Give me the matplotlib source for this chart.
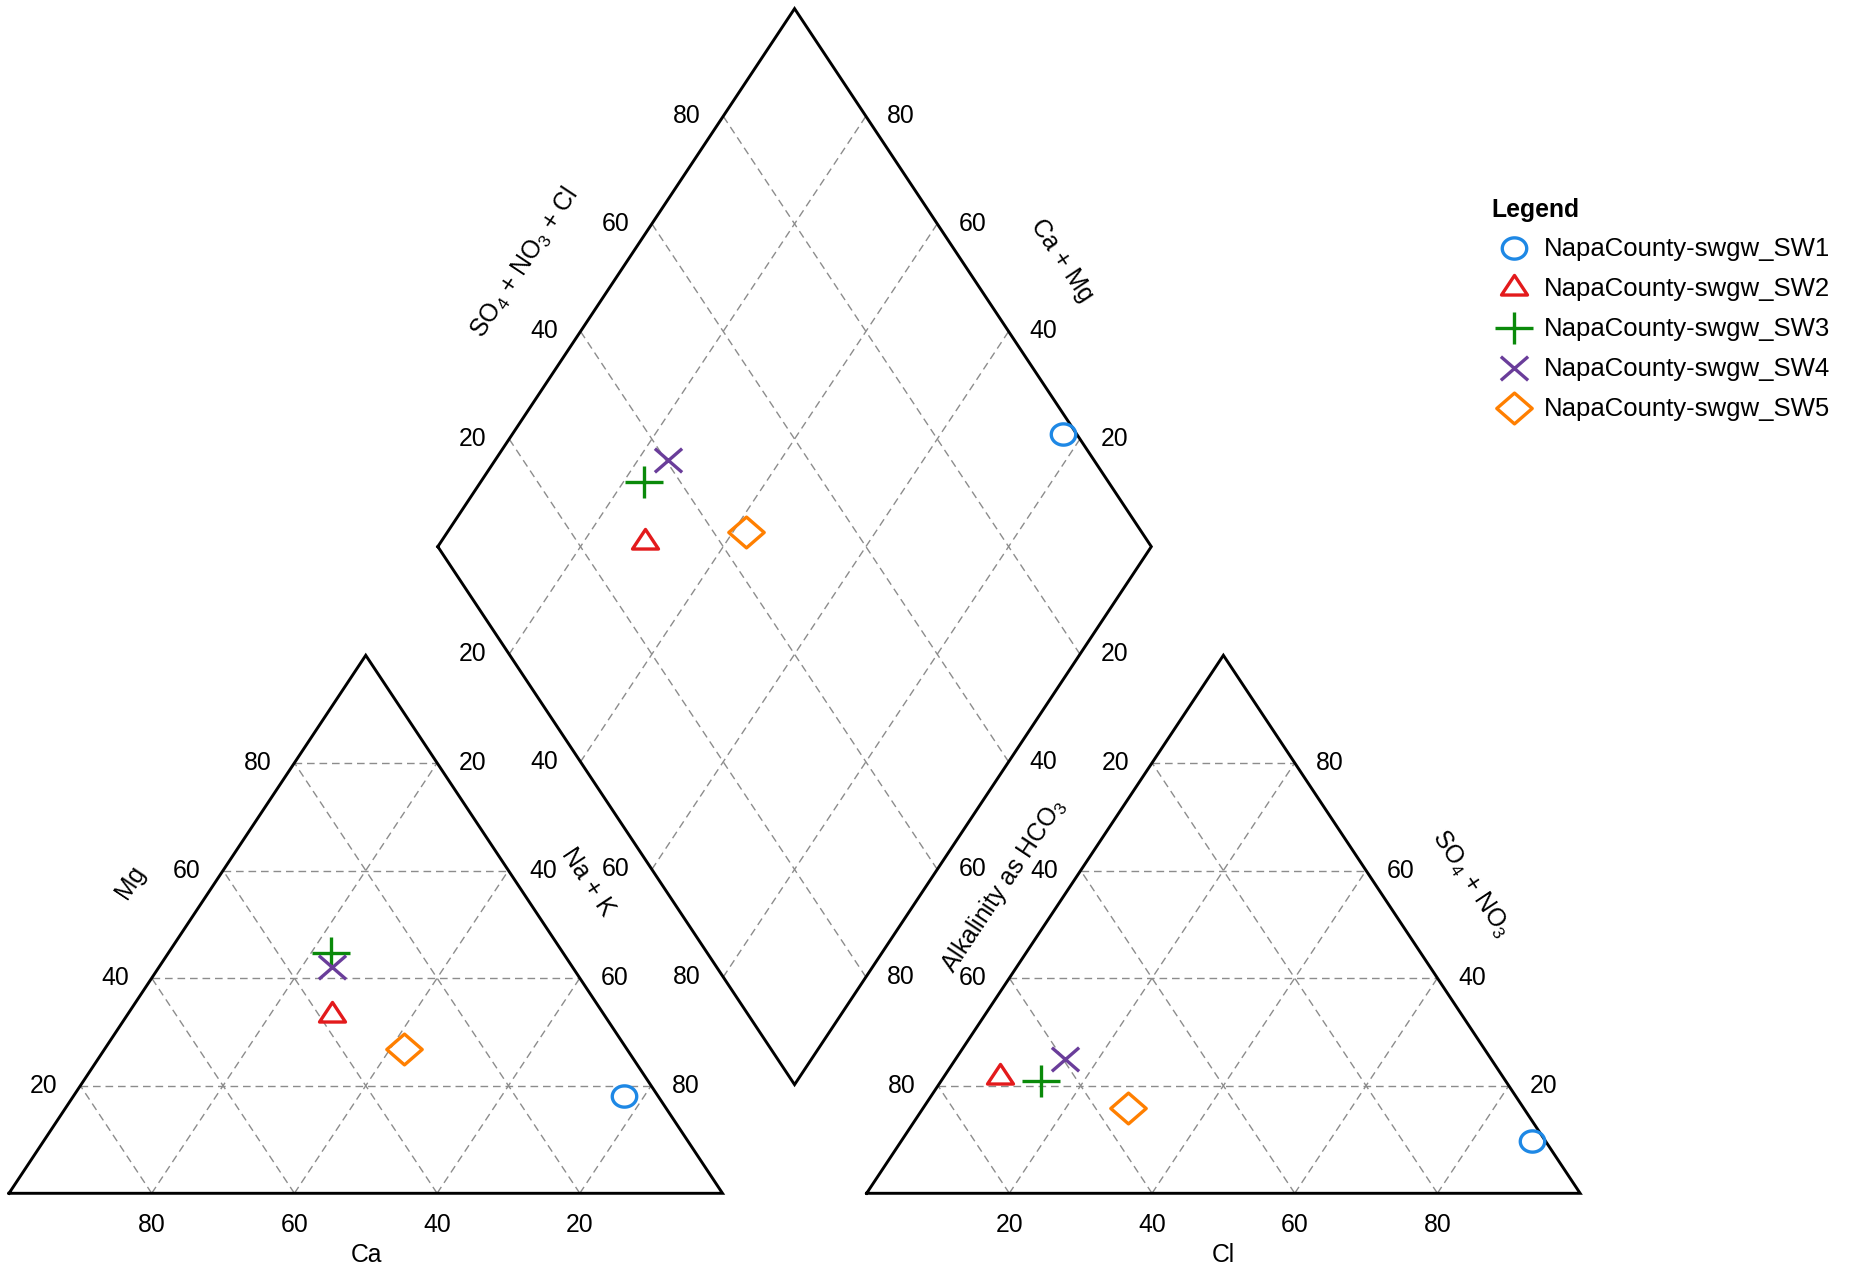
"""
piper diagram of the napa county surface water samples
"""
import numpy as np
import matplotlib
matplotlib.use("Agg")
import matplotlib.pyplot as plt
from matplotlib.path import Path

plt.rcParams['font.family'] = ['Liberation Sans', 'DejaVu Sans']
plt.rcParams['mathtext.fontset'] = 'custom'
plt.rcParams['mathtext.rm'] = 'Liberation Sans'
plt.rcParams['mathtext.it'] = 'Liberation Sans:italic'
plt.rcParams['lines.scale_dashes'] = False

# percent of meq
samples = ["NapaCounty-swgw_SW1", "NapaCounty-swgw_SW2", "NapaCounty-swgw_SW3",
           "NapaCounty-swgw_SW4", "NapaCounty-swgw_SW5"]
ca = [4.8, 38.2, 32.6, 33.7, 31.3]
mg = [18.0, 33.1, 44.6, 42.1, 26.8]
na_k = [77.2, 28.7, 22.8, 24.2, 41.9]
hco3 = [1.9, 70.5, 65.1, 59.7, 55.4]
so4 = [9.8, 21.7, 20.9, 24.9, 15.8]
cl = [88.3, 7.8, 14.0, 15.4, 28.8]
colors = ['#1E88E5', '#E31A1C', '#0A8A0A', '#6A3D9A', '#FF7F00']
ticks = [20, 40, 60, 80]

GAP = 20.2      # space between the two triangles (in % units)
SQ = 0.87       # the original is squashed vertically, markers too
PX_X, PX_Y = 7.135, 5.38   # pixels per unit
X0, Y0 = 9.0, 1193.3       # pixel of the left triangle corner


def tri_xy(right, top, x0=0.0):
    right = np.asarray(right, float)
    top = np.asarray(top, float)
    return x0 + right + top / 2.0, top


def diamond_xy(camg, so4cl):
    camg = np.asarray(camg, float)
    so4cl = np.asarray(so4cl, float)
    return 100 + GAP / 2 + (so4cl - camg) / 2.0, GAP + camg + so4cl


def px(x, y):
    # pixel position in the 1850x1270 picture -> data units
    return (x - X0) / PX_X, (Y0 - y) / PX_Y


# marker shapes, squashed like the original
t = np.linspace(0, 2 * np.pi, 73)
m_circle = Path(np.column_stack([np.cos(t), SQ * np.sin(t)]), closed=True)
m_tri = Path([(0, SQ), (0.866, -0.5 * SQ), (-0.866, -0.5 * SQ), (0, SQ)],
             [Path.MOVETO, Path.LINETO, Path.LINETO, Path.CLOSEPOLY])
m_plus = Path([(-1, 0), (1, 0), (0, -SQ), (0, SQ)],
              [Path.MOVETO, Path.LINETO, Path.MOVETO, Path.LINETO])
m_x = Path([(-1, -SQ), (1, SQ), (-1, SQ), (1, -SQ)],
           [Path.MOVETO, Path.LINETO, Path.MOVETO, Path.LINETO])
m_dia = Path([(0, SQ), (1, 0), (0, -SQ), (-1, 0), (0, SQ)],
             [Path.MOVETO, Path.LINETO, Path.LINETO, Path.LINETO, Path.CLOSEPOLY])
markers = [m_circle, m_tri, m_plus, m_x, m_dia]
msizes = [17.6, 18.8, 27, 19.6, 25.5]


def main():
    fig = plt.figure(figsize=(18.5, 12.7), dpi=100)
    ax = fig.add_axes([0, 0, 1, 1])
    ax.set_xlim((0 - X0) / PX_X, (1850 - X0) / PX_X)
    ax.set_ylim((Y0 - 1270) / PX_Y, Y0 / PX_Y)
    ax.axis('off')

    grid_kw = dict(color='#8C8C8C', lw=1.0, dashes=(5.5, 3.5), zorder=1)
    edge_kw = dict(color='black', lw=2.1, zorder=2, solid_joinstyle='miter')
    fs = 17.8

    # the two triangles
    for x0 in (0.0, 100 + GAP):
        ax.plot([x0, x0 + 100, x0 + 50, x0], [0, 0, 100, 0], **edge_kw)
        for k in ticks:
            xa, ya = tri_xy([0, 100 - k], [k, k], x0)
            ax.plot(xa, ya, **grid_kw)
            xa, ya = tri_xy([k, k], [0, 100 - k], x0)
            ax.plot(xa, ya, **grid_kw)
            xa, ya = tri_xy([100 - k, 0], [0, 100 - k], x0)
            ax.plot(xa, ya, **grid_kw)

    # diamond
    xd, yd = diamond_xy([100, 100, 0, 0, 100], [0, 100, 100, 0, 0])
    ax.plot(xd, yd, **edge_kw)
    for k in ticks:
        xa, ya = diamond_xy([k, k], [0, 100])
        ax.plot(xa, ya, **grid_kw)
        xa, ya = diamond_xy([0, 100], [k, k])
        ax.plot(xa, ya, **grid_kw)

    # tick labels
    dl, dr = 36.5 / PX_X, 35.0 / PX_X
    yb = (Y0 - 1225.5) / PX_Y
    lab = dict(fontsize=fs, ha='center', va='center')
    x1 = 100 + GAP
    for k in ticks:
        s = str(k)
        # cations
        ax.text(100 - k, yb, s, **lab)
        x, y = tri_xy(0, k)
        ax.text(x - dl, y, s, **lab)
        x, y = tri_xy(k, 100 - k)
        ax.text(x + dr, y, s, **lab)
        # anions
        ax.text(x1 + k, yb, s, **lab)
        x, y = tri_xy(0, 100 - k, x1)
        ax.text(x - dl, y, s, **lab)
        x, y = tri_xy(100 - k, k, x1)
        ax.text(x + dr, y, s, **lab)
        # diamond
        x, y = diamond_xy(100, k)
        ax.text(x - dl, y, s, **lab)
        x, y = diamond_xy(k, 100)
        ax.text(x + dr, y, s, **lab)
        x, y = diamond_xy(100 - k, 0)
        ax.text(x - dl, y, s, **lab)
        x, y = diamond_xy(0, 100 - k)
        ax.text(x + dr, y, s, **lab)

    # axis titles
    ang = np.degrees(np.arctan2(100 * PX_Y, 50 * PX_X))
    ttl = dict(fontsize=fs, ha='center', va='center', rotation_mode='anchor')
    ax.text(*px(366, 1255), 'Ca', **ttl)
    ax.text(*px(1223.5, 1255), 'Cl', **ttl)
    ax.text(*px(130, 882), 'Mg', rotation=ang, **ttl)
    ax.text(*px(588, 882), 'Na + K', rotation=-ang, **ttl)
    ax.text(*px(525, 263), r'SO$_4$ + NO$_3$ + Cl', rotation=ang, **ttl)
    ax.text(*px(1062, 260), 'Ca + Mg', rotation=-ang, **ttl)
    ax.text(*px(1004, 885), r'Alkalinity as HCO$_3$', rotation=ang, **ttl)
    ax.text(*px(1471, 884), r'SO$_4$ + NO$_3$', rotation=-ang, **ttl)

    # samples
    xc, yc = tri_xy(na_k, mg)
    xa, ya = tri_xy(cl, so4, x1)
    xd, yd = diamond_xy(100 - np.array(na_k), 100 - np.array(hco3))
    for i in range(len(samples)):
        kw = dict(ls='none', marker=markers[i], ms=msizes[i], mew=2.4,
                  mec=colors[i], mfc='none', zorder=5)
        ax.plot([xc[i], xa[i], xd[i]], [yc[i], ya[i], yd[i]], **kw)

        # legend entry
        ly = 247.5 + 40 * i
        ax.plot(*[[v] for v in px(1514, ly)], **kw)
        ax.text(*px(1544, ly + 8.5), samples[i], fontsize=18.5,
                ha='left', va='baseline')
    ax.text(*px(1491, 217), 'Legend', fontsize=fs, fontweight='bold',
            ha='left', va='baseline')

    fig.savefig('out.png', dpi=100)


if __name__ == "__main__":
    main()
